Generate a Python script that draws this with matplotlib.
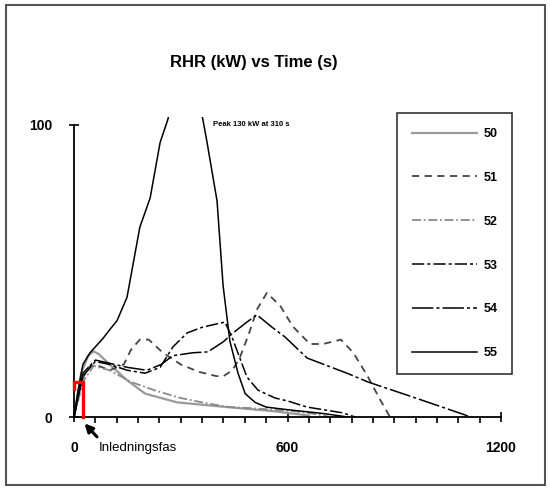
import matplotlib
matplotlib.use("Agg")
import matplotlib.pyplot as plt
from matplotlib.patches import Rectangle
from matplotlib.ticker import MultipleLocator, FixedLocator

plt.rcParams['font.family'] = ['Liberation Sans', 'DejaVu Sans']

# Heat release rate curves, RHR (kW) against time (s)
t50 = [0, 20, 40, 55, 70, 100, 150, 200, 290, 430, 560, 660]
v50 = [0, 15, 21, 22.5, 21.5, 18, 12.5, 8, 5, 3.4, 2, 0.5]

t51 = [0, 20, 40, 60, 100, 140, 160, 185, 210, 250, 300, 350, 400, 420, 445,
       465, 490, 515, 542, 580, 615, 663, 700, 750, 785, 825, 860, 888]
v51 = [0, 12, 17, 18, 16, 18, 23, 26.5, 26.5, 22, 18, 15.5, 14, 14, 16,
       20, 28, 37, 42.5, 38, 31, 25, 25, 26.5, 22, 14, 6, 0]

t52 = [0, 25, 55, 100, 160, 230, 300, 360, 430, 500, 560, 620, 680, 720]
v52 = [0, 12, 17.5, 16, 12, 9, 6.5, 5, 3.5, 3, 2.5, 2, 1, 0]

t53 = [0, 25, 60, 100, 150, 200, 242, 278, 318, 362, 424, 444, 466, 486,
       517, 565, 600, 655, 756, 790]
v53 = [0, 14, 19, 18, 16, 15, 17, 24, 28.8, 30.8, 32.5, 27.4, 20.2, 13.7,
       9.2, 6.5, 5.5, 3.4, 1.4, 0]

t54 = [0, 25, 60, 150, 205, 245, 278, 334, 376, 419, 447, 486, 514, 556,
       593, 655, 767, 826, 953, 1099, 1113]
v54 = [0, 15, 19.5, 17, 16, 18, 21, 22, 22.3, 25.7, 28.8, 32.5, 35, 30.8,
       27.4, 20.2, 15, 12, 6.8, 0.7, 0]

t55 = [0, 10, 25, 45, 82, 101, 121, 149, 185, 214, 242, 264, 310, 362, 374,
       402, 419, 438, 461, 481, 509, 540, 600, 700, 770]
v55 = [0, 8, 18, 22, 27, 30, 33, 41, 65, 75, 94, 102, 130, 102, 94,
       74, 45, 26, 15, 8, 5, 3.4, 2.5, 1.2, 0]

series_labels = ['50', '51', '52', '53', '54', '55']

peak_time = 310
peak_value = 130

# Initial phase marker
phase_end = 25
phase_level = 12

fig = plt.figure(figsize=(5.5, 4.9), dpi=100)
W, H = 550, 490

# outer frame
fig.patches.append(Rectangle((6 / W, 1 - 485 / H), 539 / W, 480 / H,
                             transform=fig.transFigure, fill=False,
                             edgecolor='#555555', linewidth=1.5))

ax = fig.add_axes([74 / W, 1 - 417 / H, 427 / W, 300 / H])
ax.set_xlim(0, 1200)
ax.set_ylim(0, 300 / 2.92)

styles = [
    dict(color='#9a9a9a', lw=1.6, ls='-'),
    dict(color='#444444', lw=1.3, ls=(0, (4, 3))),
    dict(color='#8a8a8a', lw=1.3, ls=(0, (5, 1.5, 1, 1.5))),
    dict(color='black', lw=1.1, ls=(0, (8, 2, 2, 2))),
    dict(color='black', lw=1.1, ls=(0, (14, 2, 2, 2))),
    dict(color='black', lw=1.1, ls='-'),
]
data = [(t50, v50), (t51, v51), (t52, v52), (t53, v53), (t54, v54), (t55, v55)]
for (t, v), lab, st in zip(data, series_labels, styles):
    ax.plot(t, v, label=lab, **st)

# red bracket marking the initial phase
ax.plot([1, 1, phase_end, phase_end], [phase_level - 2.5, phase_level, phase_level, 0],
        color='red', lw=2.4, solid_joinstyle='miter', clip_on=False, zorder=5)

for s in ['top', 'right']:
    ax.spines[s].set_visible(False)
ax.spines['left'].set_bounds(0, 100)
ax.spines['bottom'].set_bounds(0, 1200)
for s in ['left', 'bottom']:
    ax.spines[s].set_linewidth(1.3)

ax.xaxis.set_major_locator(FixedLocator([0, 600, 1200]))
ax.xaxis.set_minor_locator(MultipleLocator(60))
ax.yaxis.set_major_locator(FixedLocator([0, 100]))
ax.tick_params(axis='x', which='major', direction='inout', length=7, width=1.2, pad=14,
               labelsize=10)
ax.tick_params(axis='x', which='minor', direction='out', length=4, width=1.2)
ax.tick_params(axis='y', which='major', direction='inout', length=7, width=1.2, pad=12,
               labelsize=10)
for lbl in ax.get_xticklabels() + ax.get_yticklabels():
    lbl.set_fontweight('bold')

ax.text(391, 100, f'Peak {peak_value} kW at {peak_time} s', fontsize=5.5,
        fontweight='bold', va='center', ha='left')

fig.text(254 / W, 1 - 63 / H, 'RHR (kW) vs Time (s)', fontsize=12,
         fontweight='bold', ha='center', va='center')

ax.annotate('', xy=(24, -1.5), xytext=(70, -7.5), xycoords='data',
            arrowprops=dict(arrowstyle='-|>', lw=2.2, color='black',
                            mutation_scale=12),
            annotation_clip=False)
fig.text(99 / W, 1 - 448 / H, 'Inledningsfas', fontsize=9.5, ha='left', va='center')

leg = ax.legend(loc='upper left', bbox_to_anchor=(397 / W, 1 - 113 / H),
                bbox_transform=fig.transFigure, borderaxespad=0,
                fancybox=False, frameon=True, handlelength=5.2,
                handletextpad=0.5, labelspacing=2.55, borderpad=1.2,
                prop=dict(size=9, weight='bold'))
leg.get_frame().set_edgecolor('black')
leg.get_frame().set_linewidth(1.2)

fig.savefig('out.png', dpi=100)
